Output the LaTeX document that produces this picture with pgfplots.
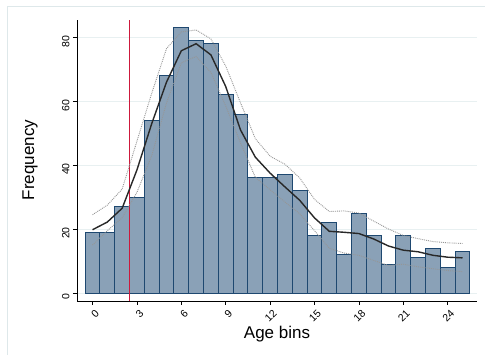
\documentclass[border=0pt]{standalone}
\usepackage{fontspec}
\setmainfont{Liberation Sans}
\usepackage{pgfplots}
\pgfplotsset{compat=1.18}
\definecolor{barfill}{RGB}{138,161,183}
\definecolor{baredge}{RGB}{30,72,112}
\definecolor{gridc}{RGB}{232,240,241}
\definecolor{framec}{RGB}{222,232,234}
\definecolor{redl}{RGB}{205,25,60}
\definecolor{meanc}{RGB}{40,40,40}
\definecolor{ciC}{RGB}{150,150,150}
\begin{document}
\begin{tikzpicture}[x=1pt,y=1pt]
\useasboundingbox (0,0) rectangle (485,355);
\fill[white] (0,0) rectangle (485,355);
\draw[framec, line width=1pt] (7,-5) -- (7,348) -- (490,348);
\begin{axis}[
  at={(77pt,54pt)}, anchor=south west,
  scale only axis, width=400pt, height=281pt,
  xmin=-1.05, xmax=25.98, ymin=-2.5, ymax=85.42,
  axis x line*=bottom, axis y line*=left,
  x axis line style={-, black, line width=0.8pt},
  y axis line style={-, black, line width=0.8pt},
  xtick={0,3,...,24}, ytick={0,20,...,80},
  tick align=outside, major tick length=4pt,
  tick style={black, line width=0.7pt},
  ymajorgrids, grid style={gridc, line width=0.9pt},
  /pgf/number format/assume math mode=true,
  tick label style={font=\fontsize{10.5}{12}\selectfont},
  x tick label style={rotate=45, anchor=north east, xshift=2pt, yshift=-1pt},
  y tick label style={rotate=90, anchor=south, xshift=-4pt},
  xlabel={Age bins}, ylabel={Frequency},
  label style={font=\fontsize{17}{20}\selectfont},
  xlabel style={at={(axis description cs:0.5,-0.1317)}, anchor=base},
  ylabel style={at={(axis description cs:-0.1175,0.502)}, anchor=center, rotate=0},
]
\addplot[ybar interval, fill=barfill, draw=baredge, line width=0.9pt] coordinates {
(-0.5,19) (0.5,19) (1.5,27) (2.5,30) (3.5,54) (4.5,68) (5.5,83) (6.5,79)
(7.5,78) (8.5,62) (9.5,56) (10.5,36) (11.5,36) (12.5,37) (13.5,32) (14.5,18)
(15.5,22) (16.5,12) (17.5,25) (18.5,18) (19.5,9) (20.5,18) (21.5,11) (22.5,14)
(23.5,8) (24.5,13) (25.5,13)};
\draw[draw=redl, line width=1.1pt] (axis cs:2.5,-2.5) -- (axis cs:2.5,85.42);
\addplot[sharp plot, draw=ciC, line width=0.9pt, densely dotted, mark=none] coordinates {
(0,24.5) (1,27.5) (2,32.5) (3,47.5) (4,62.5) (5,76.5) (6,81.7) (7,82.3) (8,79.5)
(9,71) (10,59.5) (11,48.3) (12,42.8) (13,40.3) (14,36) (15,29.3) (16,25.5)
(17,25.7) (18,25) (19,22.5) (20,20) (21,18) (22,17) (23,16.1) (24,15.7) (25,15.5)};
\addplot[sharp plot, draw=ciC, line width=0.9pt, densely dotted, mark=none] coordinates {
(0,15) (1,19.5) (2,23.5) (3,31.5) (4,43) (5,59.5) (6,72) (7,74) (8,69)
(9,58.5) (10,47) (11,36.2) (12,32.3) (13,28.5) (14,24.8) (15,19.5) (16,14)
(17,12.5) (18,11.8) (19,10.2) (20,8.6) (21,9) (22,8.2) (23,7.6) (24,7) (25,6.7)};
\addplot[sharp plot, draw=meanc, line width=1.4pt, mark=none] coordinates {
(0,19.8) (1,22.2) (2,26.5) (3,38.5) (4,53) (5,66) (6,75.8) (7,78) (8,74.5)
(9,64.6) (10,51) (11,42.5) (12,37.5) (13,33.2) (14,29) (15,23.5) (16,19.3)
(17,19) (18,18.6) (19,16.9) (20,14.7) (21,13.4) (22,12.9) (23,11.8) (24,11.2) (25,11)};
\end{axis}
\end{tikzpicture}
\end{document}
